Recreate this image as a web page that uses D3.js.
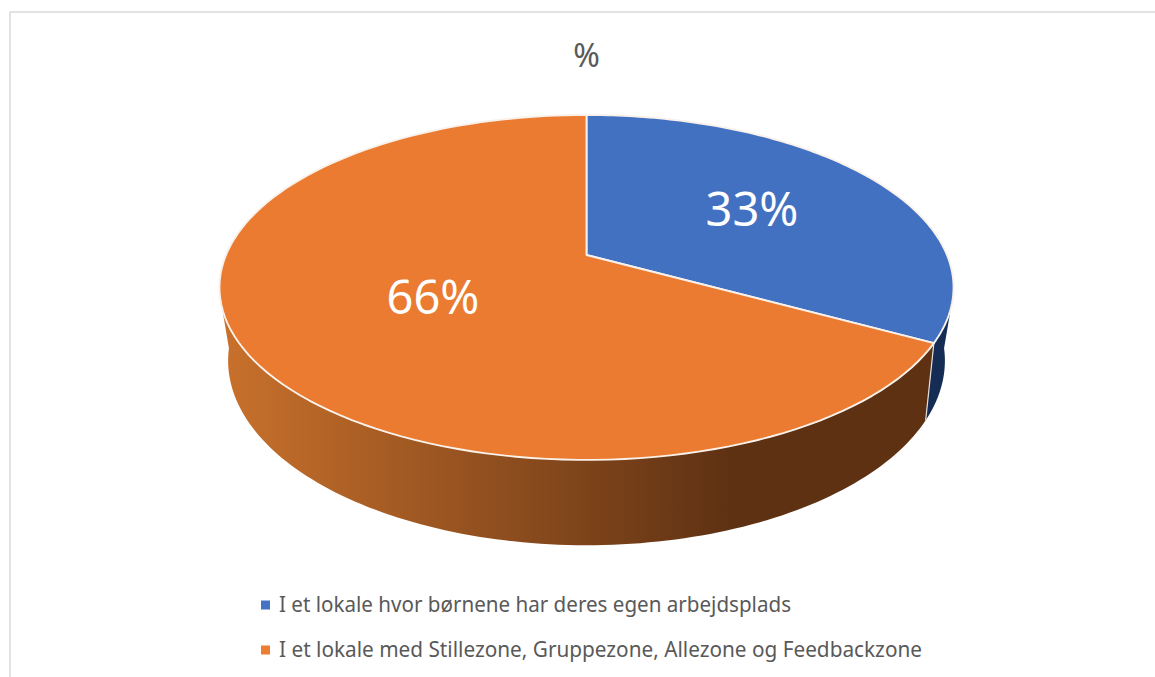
<!DOCTYPE html>
<html><head><meta charset="utf-8">
<script src="https://cdn.jsdelivr.net/npm/d3@7"></script>
<style>html,body{margin:0;padding:0;background:#fff;overflow:hidden}svg{display:block}text{font-family:"Noto Sans",sans-serif}</style>
</head><body><svg id="c" width="1155" height="677"></svg>
<script>
const chartTitle = "%";
const categories = ["I et lokale hvor børnene har deres egen arbejdsplads","I et lokale med Stillezone, Gruppezone, Allezone og Feedbackzone"];
const sliceShares = [33, 67];
const dataLabels = ["33%", "66%"];
const topColors = ["#4371C2", "#EA7B30"];
const sideColors = ["#152C55", "url(#sideGrad)"];
const legendColors = ["#4472C4", "#ED7D31"];

const svg = d3.select("#c");
svg.append("rect").attr("x",10).attr("y",12).attr("width",1200).attr("height",700)
  .attr("fill","#fff").attr("stroke","#d9d9d9").attr("stroke-width",1.5);

const defs = svg.append("defs");
const grad = defs.append("linearGradient").attr("id","sideGrad").attr("gradientUnits","userSpaceOnUse")
  .attr("x1",220).attr("x2",733).attr("y1",0).attr("y2",0);
grad.append("stop").attr("offset",0).attr("stop-color","#C9712C");
grad.append("stop").attr("offset",1).attr("stop-color","#5E3113");

const arcs = d3.pie().sort(null).value(d=>d)(sliceShares);

// perspective projection of a flat disc
const cx = 586.5, persp = -0.188;
const topRim = a => { const u=Math.sin(a), v=-Math.cos(a), w=1+persp*v; return [cx+360.5*u/w, 255+166.4*v/w]; };
const botRim = a => { const u=Math.sin(a), v=-Math.cos(a), w=1+persp*v; return [cx+352*u/w, 326+178*v/w]; };
const steps = (a,b) => d3.range(0,121).map(i=>d3.interpolateNumber(a,b)(i/120));
const line = d3.line();
const rad = d => d*Math.PI/180;

// sides: only the part of the rim facing the viewer
const clampAngle = (x,lo,hi) => Math.min(hi,Math.max(lo,x));
arcs.forEach((d,i)=>{
  const ta = clampAngle(d.startAngle, rad(107.5), rad(252.5)), tb = clampAngle(d.endAngle, rad(107.5), rad(252.5));
  const ba = clampAngle(d.startAngle, rad(97), rad(263)), bb = clampAngle(d.endAngle, rad(97), rad(263));
  const pts = steps(ta,tb).map(topRim).concat(steps(bb,ba).map(botRim));
  svg.append("path").attr("d",line(pts)+"Z").attr("fill",sideColors[i]);
});
// divider on the side
const divA = arcs[0].endAngle;
svg.append("path").attr("d",line([topRim(divA),botRim(divA)]))
  .attr("stroke","#e4e0dc").attr("stroke-width",1.2).attr("fill","none");

// top faces
arcs.forEach((d,i)=>{
  const pts = [[cx,255]].concat(steps(d.startAngle,d.endAngle).map(topRim));
  svg.append("path").attr("d",line(pts)+"Z").attr("fill",topColors[i])
    .attr("stroke","#f9f1ea").attr("stroke-width",1.9).attr("stroke-linejoin","round");
});

// labels
svg.append("text").text(chartTitle).attr("x",586.5).attr("y",67).attr("text-anchor","middle")
  .attr("font-size",32).attr("fill","#595959");
const labelPos = [[752,226],[433,314]];
dataLabels.forEach((t,i)=>{
  svg.append("text").text(t).attr("x",labelPos[i][0]).attr("y",labelPos[i][1]).attr("text-anchor","middle")
    .attr("font-size",47).attr("fill","#fff");
});

// legend
const legY = d3.scalePoint().domain(categories).range([605,650]);
const legW = [512, 643];
categories.forEach((c,i)=>{
  svg.append("rect").attr("x",261).attr("y",legY(c)-4.5).attr("width",9).attr("height",9).attr("fill",legendColors[i]);
  svg.append("text").text(c).attr("x",279).attr("y",legY(c)+6.5).attr("font-size",21).attr("fill","#595959")
    .attr("textLength",legW[i]).attr("lengthAdjust","spacingAndGlyphs");
});
</script></body></html>
